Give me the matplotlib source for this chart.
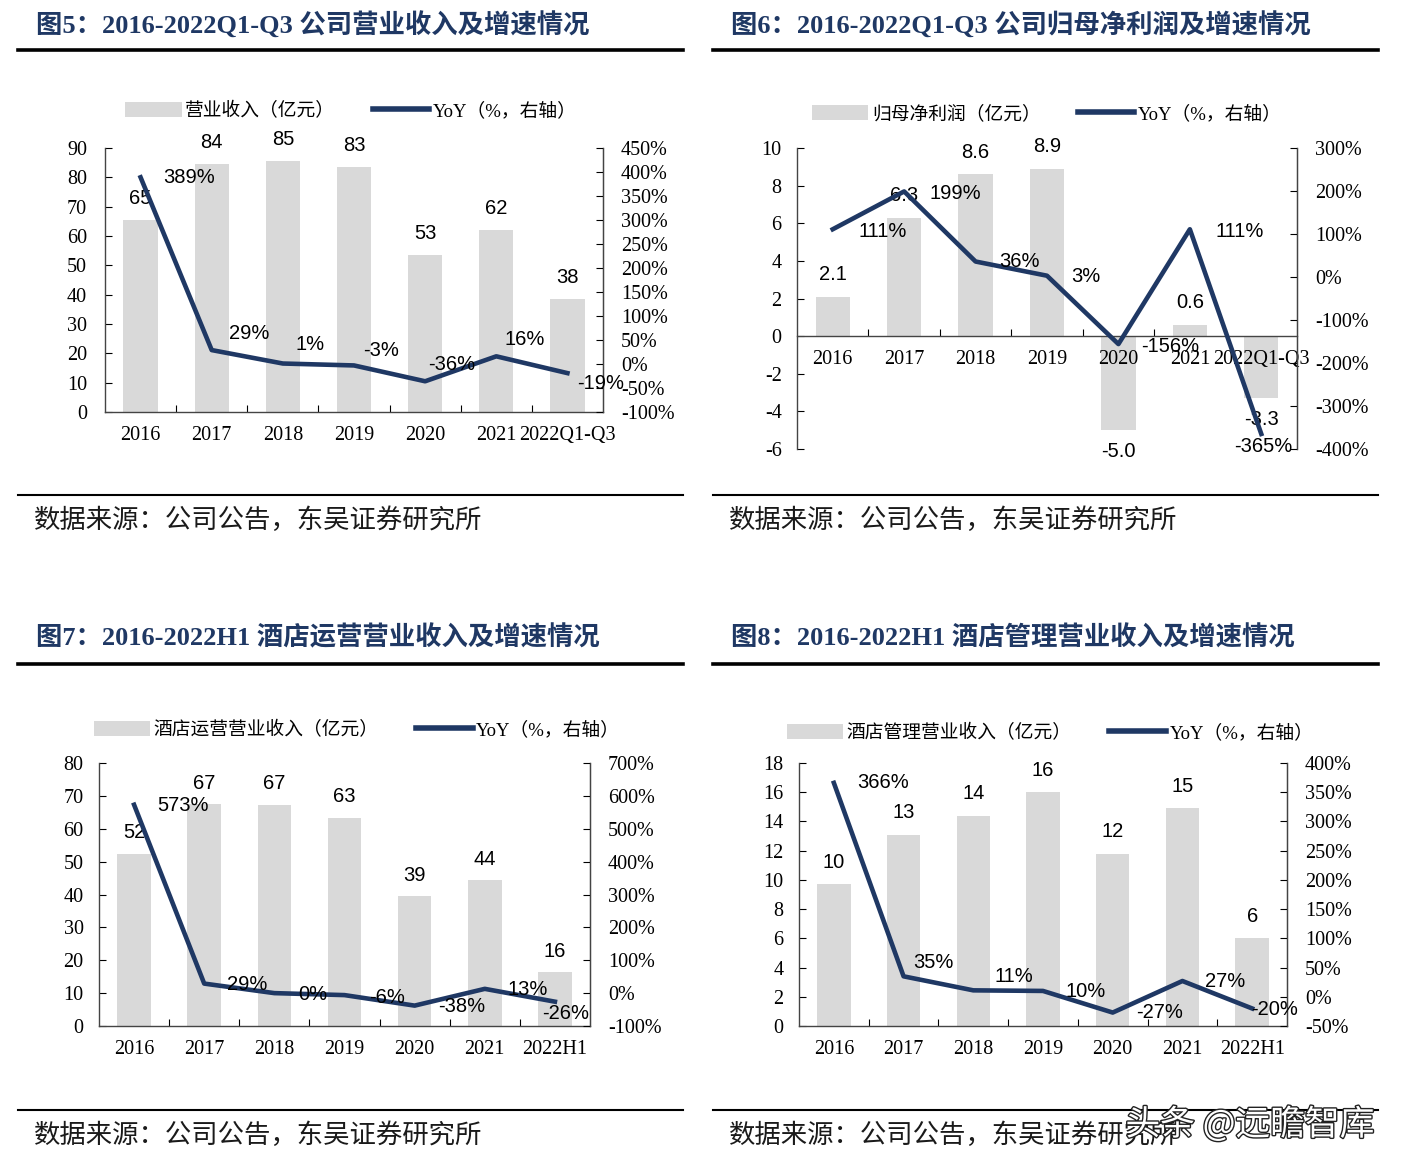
import numpy as np
import matplotlib
matplotlib.use("Agg")
import matplotlib.pyplot as plt
from matplotlib.lines import Line2D
from matplotlib.patches import Patch
import matplotlib.patheffects as pe

plt.rcParams['font.family'] = ['Liberation Serif', 'Noto Sans CJK SC', 'DejaVu Sans']
plt.rcParams['axes.unicode_minus'] = False

W, H = 1411, 1173
NAVY = '#1F3864'
GRAY = '#D9D9D9'

# ---------------- data ----------------
years_a = ['2016', '2017', '2018', '2019', '2020', '2021', '2022Q1-Q3']
years_b = ['2016', '2017', '2018', '2019', '2020', '2021', '2022H1']

revenue = [65.4, 84.4, 85.4, 83.4, 53.4, 62.0, 38.4]          # 亿元
revenue_yoy = [389, 29, 1, -3, -36, 16, -19]                  # %

profit = [2.1, 6.3, 8.6, 8.9, -5.0, 0.6, -3.3]
profit_yoy = [111, 199, 36, 3, -156, 111, -365]

hotel_ops = [52.4, 67.4, 67.3, 63.4, 39.4, 44.3, 16.4]
hotel_ops_yoy = [573, 29, 0, -6, -38, 13, -26]

hotel_mgmt = [9.7, 13.1, 14.4, 16.0, 11.8, 14.9, 6.0]
hotel_mgmt_yoy = [366, 35, 11, 10, -27, 27, -20]

fig = plt.figure(figsize=(W / 100, H / 100), dpi=100)


def fx(x):
    return x / W


def fy(y):
    return 1 - y / H


def frame(x0, y_title, y_line, y_bot, y_src, title):
    # title, thick rule, bottom rule and source note of one panel
    fig.text(fx(x0 + 18), fy(y_title), title, fontsize=19, fontweight='bold',
             color=NAVY, ha='left', va='center')
    fig.add_artist(Line2D([fx(x0), fx(x0 + 665)], [fy(y_line), fy(y_line)],
                          transform=fig.transFigure, color='black', lw=2.6))
    fig.add_artist(Line2D([fx(x0), fx(x0 + 665)], [fy(y_bot), fy(y_bot)],
                          transform=fig.transFigure, color='black', lw=1.5))
    fig.text(fx(x0 + 16), fy(y_src), '数据来源：公司公告，东吴证券研究所', fontsize=19,
             color='#1a1a1a', ha='left', va='center')


def panel(box, cats, bars, yoy, fmt, ylim, yticks, y2lim, y2ticks,
          yoy_off, bar_up=22, bar_down=21, zero_axis=False, ypad=11):
    l, t, r, b = box
    ax = fig.add_axes([fx(l), fy(b), fx(r - l), (b - t) / H])
    x = np.arange(len(cats))
    ax.bar(x, bars, width=0.48, color=GRAY, zorder=1)
    ax.set_xlim(-0.5, len(cats) - 0.5)
    ax.set_ylim(*ylim)
    ax.set_yticks(yticks)
    ax.set_xticks(x)
    ax.set_xticklabels(cats)
    ax.set_xticks(np.arange(0.5, len(cats) - 1), minor=True)
    ax.tick_params(axis='x', which='major', length=0, pad=10, labelsize=14.5)
    ax.tick_params(axis='x', which='minor', direction='in', length=5, width=0.8)
    ax.tick_params(axis='y', direction='in', length=5, width=0.8, pad=ypad,
                   labelsize=14.5)
    for s in ['left', 'bottom', 'right']:
        ax.spines[s].set_color('#444444')
        ax.spines[s].set_linewidth(1.0)
    ax.spines['top'].set_visible(False)
    if zero_axis:
        ax.spines['bottom'].set_position(('data', 0))

    for i, v in enumerate(bars):
        off = bar_up if v >= 0 else -bar_down
        ax.annotate(fmt.format(v), (i, v), xytext=(0, off), textcoords='offset pixels',
                    ha='center', va='center', fontsize=14.5,
                    fontfamily='Liberation Sans', color='black')

    ax2 = ax.twinx()
    ax2.plot(x, yoy, color=NAVY, lw=3.3, zorder=3)
    ax2.set_ylim(*y2lim)
    ax2.set_yticks(y2ticks)
    ax2.set_yticklabels([f'{v}%' for v in y2ticks])
    ax2.tick_params(axis='y', direction='in', length=5, width=0.8, pad=13,
                    labelsize=14.5)
    for s in ['top', 'left', 'bottom']:
        ax2.spines[s].set_visible(False)
    ax2.spines['right'].set_color('#444444')

    for i, v in enumerate(yoy):
        dx, dy = yoy_off[i]
        ax2.annotate(f'{v}%', (i, v), xytext=(dx, dy), textcoords='offset pixels',
                     ha='center', va='center', fontsize=14.5,
                     fontfamily='Liberation Sans', color='black')
    return ax, ax2


def legend(cx, cy, label):
    handles = [Patch(facecolor=GRAY, edgecolor='none'),
               Line2D([], [], color=NAVY, lw=4)]
    fig.legend(handles, [label, 'YoY（%，右轴）'], loc='center',
               bbox_to_anchor=(fx(cx), fy(cy)), ncol=2, frameon=False,
               fontsize=13.5, handlelength=3.0, handleheight=0.85,
               handletextpad=0.2, columnspacing=2.0)


# ---- 图5 ----
frame(18, 25, 50, 495, 520, '图5：2016-2022Q1-Q3 公司营业收入及增速情况')
legend(351, 111, '营业收入（亿元）')
panel((105, 148, 603, 412), years_a, revenue, revenue_yoy, '{:.0f}',
      (0, 90), range(0, 91, 10), (-100, 450), range(-100, 451, 50),
      [(49, 0), (37, 17), (27, 19), (27, 15), (27, 17), (28, 17), (33, -10)],
      ypad=13)

# ---- 图6 ----
frame(713, 25, 50, 495, 520, '图6：2016-2022Q1-Q3 公司归母净利润及增速情况')
legend(1047, 114, '归母净利润（亿元）')
panel((797, 148, 1297, 449), years_a, profit, profit_yoy, '{:.1f}',
      (-6, 10), range(-6, 11, 2), (-400, 300), range(-400, 301, 100),
      [(50, -2), (51, -2), (44, 0), (39, -1), (52, -2), (50, -2), (2, -13)],
      zero_axis=True)

# ---- 图7 ----
frame(18, 638, 664, 1110, 1135, '图7：2016-2022H1 酒店运营营业收入及增速情况')
legend(357, 730, '酒店运营营业收入（亿元）')
panel((99, 763, 590, 1026), years_b, hotel_ops, hotel_ops_yoy, '{:.0f}',
      (0, 80), range(0, 81, 10), (-100, 700), range(-100, 701, 100),
      [(49, -1), (43, -1), (38, -1), (43, -2), (47, -1), (43, -1), (11, -12)],
      bar_up=21)

# ---- 图8 ----
frame(713, 638, 664, 1110, 1135, '图8：2016-2022H1 酒店管理营业收入及增速情况')
legend(1050, 733, '酒店管理营业收入（亿元）')
panel((799, 763, 1287, 1026), years_b, hotel_mgmt, hotel_mgmt_yoy, '{:.0f}',
      (0, 18), range(0, 19, 2), (-50, 400), range(-50, 401, 50),
      [(49, 0), (30, 14), (41, 14), (43, -1), (47, 0), (43, -1), (22, -1)])

# watermark
fig.text(fx(1250), fy(1125), '头条 @远瞻智库', fontsize=25, color='white',
         family=['Noto Sans CJK SC', 'DejaVu Sans'], ha='center', va='center',
         path_effects=[pe.withStroke(linewidth=2, foreground='#222222')])

fig.savefig('out.png', dpi=100)
